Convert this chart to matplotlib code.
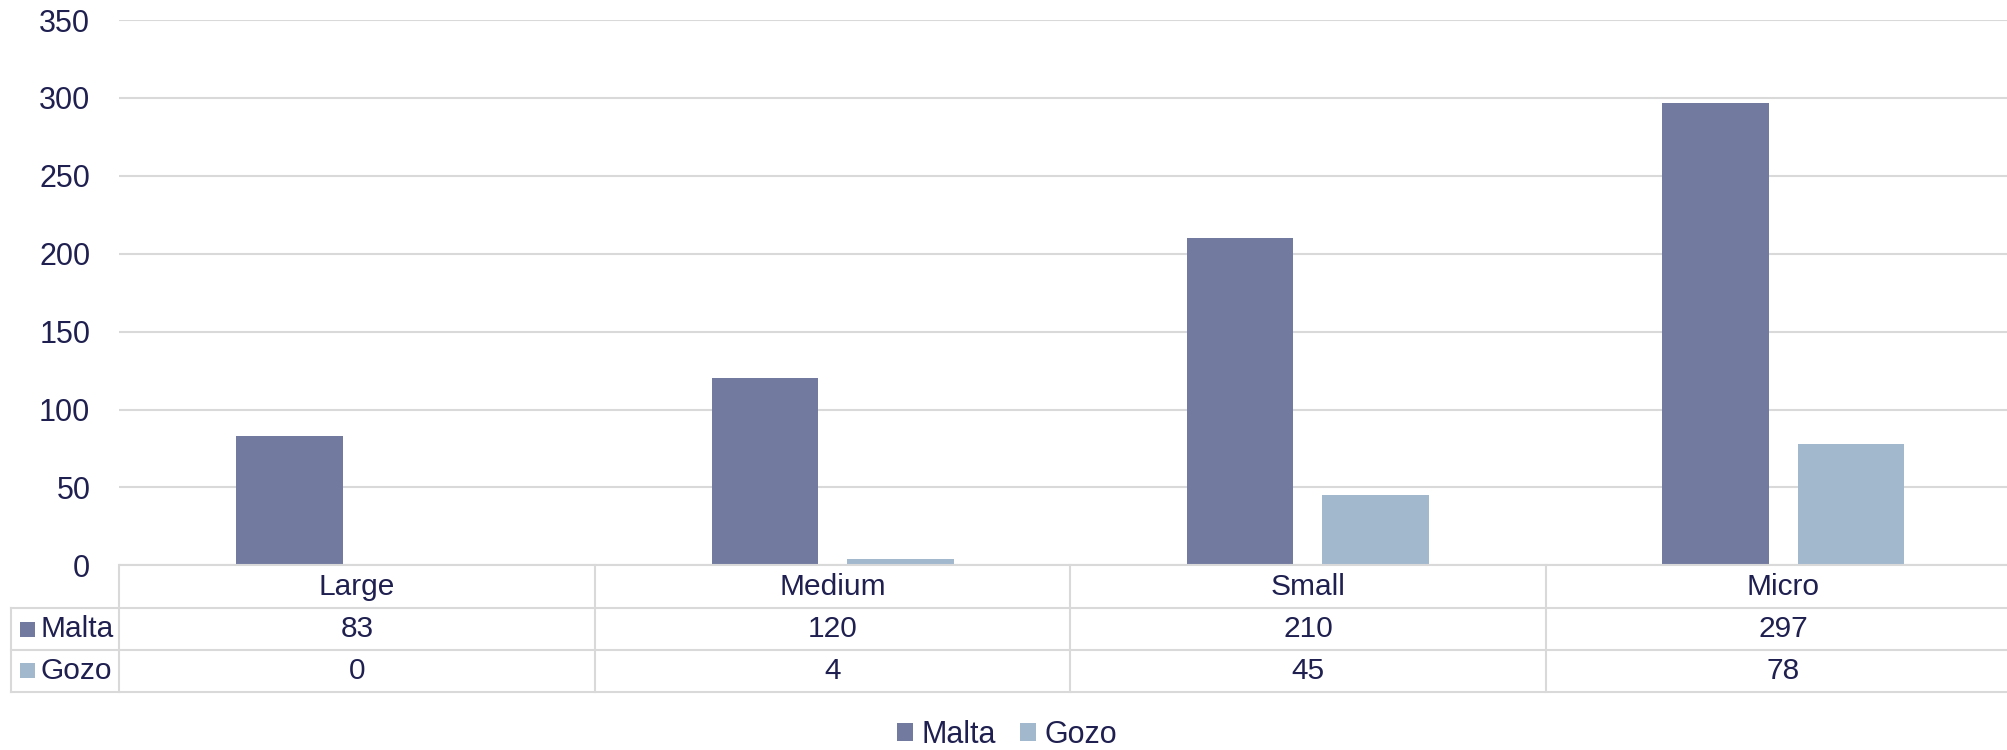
import matplotlib.pyplot as plt
import matplotlib.transforms as mtransforms
from matplotlib.patches import Rectangle
import numpy as np

plt.rcParams['font.family'] = ['Liberation Sans', 'DejaVu Sans']

categories = ['Large', 'Medium', 'Small', 'Micro']
malta = [83, 120, 210, 297]
gozo = [0, 4, 45, 78]
series_names = ['Malta', 'Gozo']

c_malta = '#727B9F'
c_gozo = '#A2B8CD'
c_text = '#1F2050'
c_line = '#D9D9D9'
fs = 21.5

W, H = 2008, 750
fig = plt.figure(figsize=(W / 100, H / 100), dpi=100)

# pixel helpers (measured from the top-left corner)
def fx(p):
    return p / W

def fy(p):
    return 1 - p / H

ax_left, ax_right = 119.5, 2021.0
ax_top, ax_bot = 20.0, 565.3
ax = fig.add_axes([fx(ax_left), fy(ax_bot), fx(ax_right - ax_left), (ax_bot - ax_top) / H])

x = np.arange(len(categories))
bw = 0.224
off = 0.1425
ax.bar(x - off, malta, bw, color=c_malta, zorder=3)
ax.bar(x + off, gozo, bw, color=c_gozo, zorder=3)

ax.set_xlim(-0.5, len(categories) - 0.5)
ax.set_ylim(0, 350)
ax.set_yticks(range(0, 351, 50))
ax.yaxis.grid(True, color=c_line, lw=1.5, zorder=0)
ax.set_axisbelow(True)
ax.tick_params(axis='y', length=0, pad=21, labelsize=22, labelcolor=c_text)
ax.tick_params(axis='x', length=0, labelbottom=False)
for s in ['top', 'right', 'left']:
    ax.spines[s].set_visible(False)
ax.spines['bottom'].set_color(c_line)
ax.spines['bottom'].set_linewidth(1.5)
ax.spines['bottom'].set_zorder(4)

# data table under the axis
tr = mtransforms.blended_transform_factory(ax.transData, fig.transFigure)
rows = [565.3, 608.3, 650.0, 691.5]
tab_left = 11.0
lkw = dict(color=c_line, lw=1.5, clip_on=False)

for r in rows[1:]:
    fig.add_artist(plt.Line2D([fx(tab_left), 1.01], [fy(r), fy(r)], transform=fig.transFigure, **lkw))
fig.add_artist(plt.Line2D([fx(tab_left), fx(tab_left)], [fy(rows[1]), fy(rows[3])], transform=fig.transFigure, **lkw))
fig.add_artist(plt.Line2D([fx(ax_left), fx(ax_left)], [fy(rows[0]), fy(rows[3])], transform=fig.transFigure, **lkw))
for b in np.arange(0.5, len(categories) - 0.5):
    ax.plot([b, b], [fy(rows[0]), fy(rows[3])], transform=tr, **lkw)

def mid(i):
    return fy((rows[i] + rows[i + 1]) / 2)

for i, cat in enumerate(categories):
    ax.text(i, mid(0), cat, transform=tr, ha='center', va='center', fontsize=fs, color=c_text)
    ax.text(i, mid(1), str(malta[i]), transform=tr, ha='center', va='center', fontsize=fs, color=c_text)
    ax.text(i, mid(2), str(gozo[i]), transform=tr, ha='center', va='center', fontsize=fs, color=c_text)

for j, (name, col) in enumerate(zip(series_names, [c_malta, c_gozo])):
    yc = (rows[j + 1] + rows[j + 2]) / 2
    fig.add_artist(Rectangle((fx(20), fy(yc + 7.5)), fx(15), 15 / H, transform=fig.transFigure,
                             facecolor=col, edgecolor='none'))
    fig.text(fx(41), fy(yc), name, ha='left', va='center', fontsize=fs, color=c_text)

# legend below the table
handles = [Rectangle((0, 0), 1, 1, facecolor=c) for c in [c_malta, c_gozo]]
fig.legend(handles, series_names, loc='center', bbox_to_anchor=(fx(1007), fy(735)), ncol=2,
           frameon=False, fontsize=22, labelcolor=c_text, handlelength=0.52, handleheight=0.52,
           handletextpad=0.27, columnspacing=0.8, borderpad=0, borderaxespad=0)

fig.savefig('out.png', dpi=100)
